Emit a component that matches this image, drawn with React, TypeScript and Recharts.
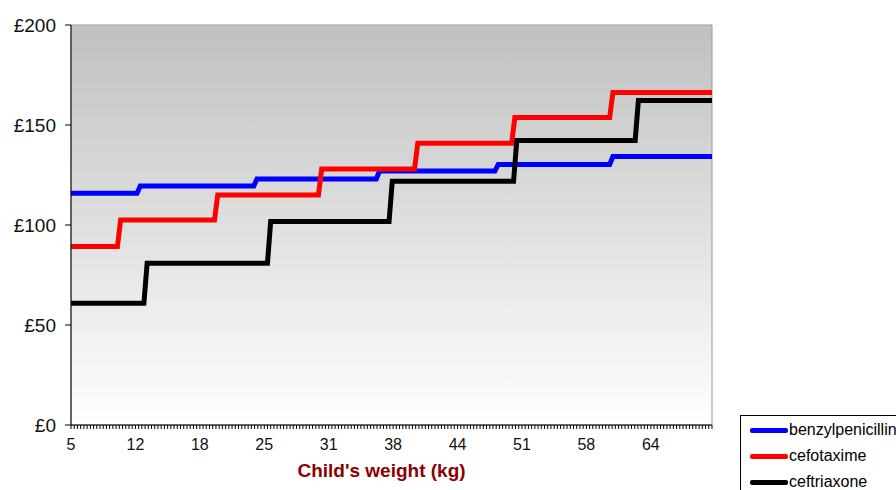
import { LineChart, Line, XAxis, YAxis, ReferenceArea } from "recharts";

// Weight axis: 200 category steps starting at 5 kg, labelled every 20th step
const firstWeight = 5;
const weightStep = 0.3285;
const weightCount = 200;
const labelEvery = 20;
const weightLabels = ["5", "12", "18", "25", "31", "38", "44", "51", "58", "64"];

const costTicks = [0, 50, 100, 150, 200];

// Weight (kg) at which each drug moves to its next cost band, and the band costs (£)
const benzylpenicillinSteps = [11.9, 23.8, 36.3, 48.4, 60.1];
const benzylpenicillinCost = [115.9, 119.5, 123.0, 127.0, 130.3, 134.2];

const cefotaximeSteps = [9.9, 19.8, 30.4, 40.2, 50.1, 60.1];
const cefotaximeCost = [89.2, 102.5, 115.0, 128.0, 140.9, 153.7, 166.2];

const ceftriaxoneSteps = [12.6, 25.2, 37.6, 50.3, 62.7];
const ceftriaxoneCost = [60.9, 80.9, 101.7, 121.9, 142.3, 162.2];

const lastWeight = firstWeight + (weightCount - 1) * weightStep;
const weightTicks = Array.from({ length: weightCount }, (_, i) => firstWeight + i * weightStep);

// each jump takes one category step, so it is drawn as a short slope
const toBands = (steps: number[], costs: number[]) => {
  const half = weightStep / 2;
  const pts: { w: number; cost: number }[] = [];
  costs.forEach((c, i) => {
    const start = i === 0 ? firstWeight : steps[i - 1] + half;
    const end = i === costs.length - 1 ? lastWeight : steps[i] - half;
    pts.push({ w: start, cost: c }, { w: end, cost: c });
  });
  return pts;
};

const series = [
  { name: "benzylpenicillin", color: "#0000ff", data: toBands(benzylpenicillinSteps, benzylpenicillinCost) },
  { name: "cefotaxime", color: "#ff0000", data: toBands(cefotaximeSteps, cefotaximeCost) },
  { name: "ceftriaxone", color: "#000000", data: toBands(ceftriaxoneSteps, ceftriaxoneCost) },
];

const font = "Arial, 'Liberation Sans', sans-serif";

const WeightTick = (props: any) => {
  const { x, y, payload } = props;
  const i = Math.round((payload.value - firstWeight) / weightStep);
  if (i % labelEvery !== 0) return <g />;
  return (
    <text x={x} y={y} dy="0.71em" textAnchor="middle" fontSize={16} fontFamily={font} fill="#111">
      {weightLabels[i / labelEvery]}
    </text>
  );
};

const App = () => {
  return (
    <div
      style={{
        position: "absolute",
        left: 0,
        top: 0,
        width: 896,
        height: 490,
        overflow: "hidden",
        background: "#fff",
      }}
    >
      <LineChart width={896} height={490} margin={{ top: 25, right: 184, bottom: 0, left: 0 }}>
        <defs>
          <linearGradient id="plotBg" x1="0" y1="0" x2="0" y2="1">
            <stop offset="0%" stopColor="#c0c0c0" />
            <stop offset="100%" stopColor="#ffffff" />
          </linearGradient>
        </defs>
        <XAxis
          type="number"
          dataKey="w"
          domain={[firstWeight, lastWeight]}
          ticks={weightTicks}
          interval={0}
          tick={<WeightTick />}
          tickSize={4}
          tickMargin={10}
          height={65}
          axisLine={{ stroke: "#000" }}
          tickLine={{ stroke: "#000" }}
          allowDataOverflow
          label={{
            value: "Child's weight (kg)",
            position: "insideBottom",
            offset: 13,
            dx: -10,
            style: { fontFamily: font, fontSize: 19, fontWeight: "bold", fill: "#8b0000" },
          }}
        />
        <YAxis
          type="number"
          dataKey="cost"
          domain={[0, 200]}
          ticks={costTicks}
          interval={0}
          width={71}
          tickSize={6}
          tickMargin={9}
          tickFormatter={(v: number) => `£${v}`}
          tick={{ fontFamily: font, fontSize: 19, fill: "#111" }}
          axisLine={{ stroke: "#000" }}
          tickLine={{ stroke: "#000" }}
        />
        <ReferenceArea
          x1={firstWeight}
          x2={lastWeight}
          y1={0}
          y2={200}
          fill="url(#plotBg)"
          fillOpacity={1}
          stroke="#999"
          strokeWidth={1}
        />
        {series.map((s) => (
          <Line
            key={s.name}
            data={s.data}
            dataKey="cost"
            name={s.name}
            type="linear"
            stroke={s.color}
            strokeWidth={5}
            dot={false}
            activeDot={false}
            isAnimationActive={false}
          />
        ))}
      </LineChart>
      <div
        style={{
          position: "absolute",
          left: 740,
          top: 415,
          width: 180,
          height: 90,
          border: "1px solid #000",
          background: "#fff",
          fontFamily: font,
          fontSize: 16,
          boxSizing: "border-box",
        }}
      >
        {series.map((s, i) => (
          <div
            key={s.name}
            style={{ position: "absolute", left: 9, top: 4 + i * 26, height: 20, display: "flex", alignItems: "center" }}
          >
            <span style={{ display: "inline-block", width: 38, height: 5, background: s.color, borderRadius: 2 }} />
            <span style={{ marginLeft: 1, whiteSpace: "nowrap" }}>{s.name}</span>
          </div>
        ))}
      </div>
    </div>
  );
};

export default App;
